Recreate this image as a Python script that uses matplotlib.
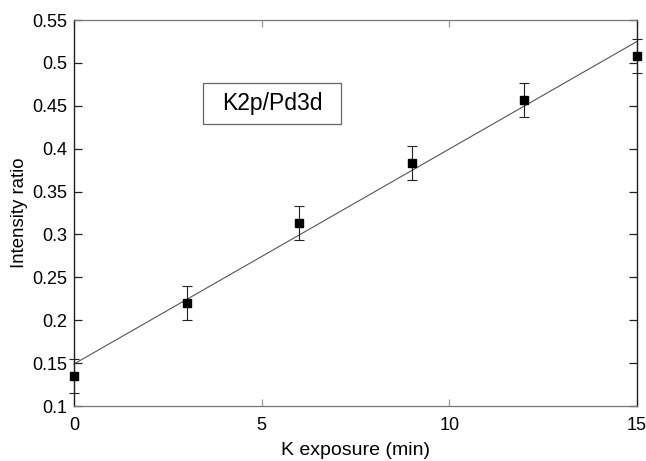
import numpy as np
import matplotlib.pyplot as plt
from matplotlib.patches import Rectangle

plt.rcParams['font.family'] = ['Liberation Sans', 'DejaVu Sans']

exposure = [0, 3, 6, 9, 12, 15]
ratio = [0.135, 0.220, 0.313, 0.383, 0.457, 0.508]
err = [0.020, 0.020, 0.020, 0.020, 0.020, 0.020]
fit_x = [0, 15]
fit_y = [0.149, 0.525]

fig = plt.figure(figsize=(6.46, 4.61), dpi=100)
ax = fig.add_axes([0.1146, 0.1193, 0.8715, 0.8373])

ax.plot(fit_x, fit_y, color='#555555', lw=0.8, clip_on=False)
ax.errorbar(exposure, ratio, yerr=err, fmt='s', color='black', ms=5.5,
            ecolor='#222222', elinewidth=0.8, capsize=3.3, capthick=0.8,
            clip_on=False, zorder=3)

ax.set_xlim(0, 15)
ax.set_ylim(0.1, 0.55)
ax.set_xticks([0, 5, 10, 15])
ax.set_yticks(np.arange(0.1, 0.551, 0.05))
ax.set_yticklabels(['0.1', '0.15', '0.2', '0.25', '0.3', '0.35',
                    '0.4', '0.45', '0.5', '0.55'])
ax.set_xticklabels(['0', '5', '10', '15'])

ax.tick_params(axis='y', direction='in', length=6, width=0.9,
               labelsize=13, right=True, color='#222222', pad=5)
ax.tick_params(axis='x', direction='in', length=5, width=0.9,
               labelsize=13, top=True, color='#999999', pad=8)
for s in ['left', 'right']:
    ax.spines[s].set_color('#222222')
    ax.spines[s].set_linewidth(1.0)
for s in ['top', 'bottom']:
    ax.spines[s].set_color('#777777')
    ax.spines[s].set_linewidth(0.9)

ax.set_xlabel('K exposure (min)', fontsize=14, labelpad=6)
ax.set_ylabel('Intensity ratio', fontsize=13.4, labelpad=3)

# label box
ax.add_patch(Rectangle((3.44, 0.4288), 3.68, 0.0478, fc='white',
                       ec='#666666', lw=0.9, zorder=4))
ax.text(5.28, 0.4527, 'K2p/Pd3d', fontsize=16.5, ha='center', va='center',
        zorder=5)

fig.savefig('out.png', dpi=100)
